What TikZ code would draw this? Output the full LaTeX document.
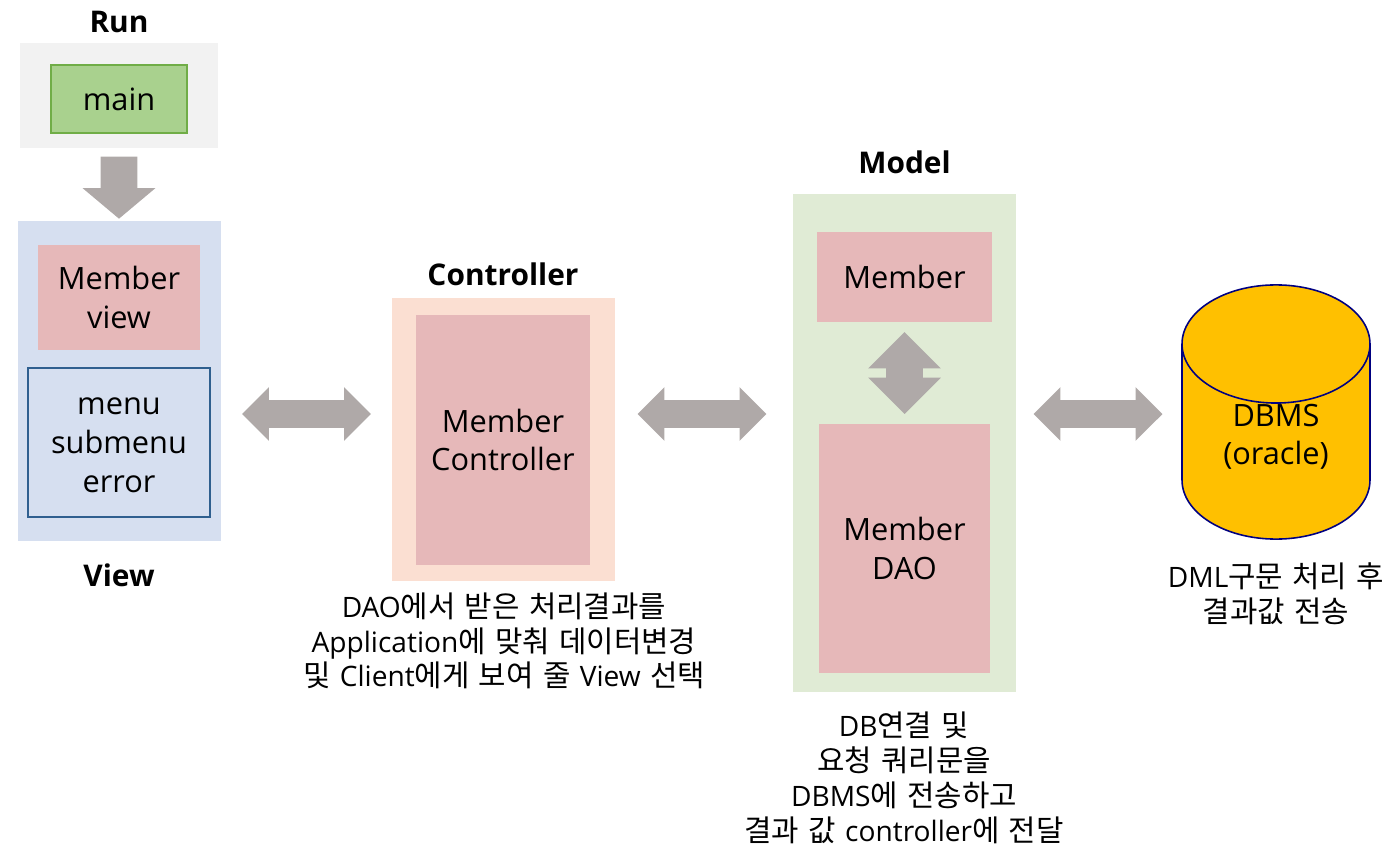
\documentclass[tikz,border=0pt]{standalone}
\usepackage{fontspec}
\setmainfont{Open Sans}
\newfontfamily\krfont[Scale=1.06,WordSpace=1.4]{Noto Sans CJK KR}
\usetikzlibrary{shapes.geometric,shapes.arrows,positioning}
\definecolor{arrowgray}{HTML}{AFA9A8}
\definecolor{memberpink}{HTML}{E6B8B9}
\definecolor{viewblue}{HTML}{D6DFF0}
\begin{document}
\begin{tikzpicture}[x=0.02cm, y=-0.02cm]
	\tikzstyle{every node} = [inner sep = 0, align = center]
	\tikzstyle{box} = [rectangle, minimum width = #1]
	\tikzstyle{title} = [font = \fontsize{17}{20}\selectfont\bfseries]
	\tikzstyle{label} = [font = \fontsize{17.5}{22}\selectfont]
	\tikzstyle{caption} = [font = \fontsize{16}{19.8}\selectfont]
	\tikzstyle{member} = [fill = memberpink, label]
	\tikzstyle{both} = [double arrow, fill = arrowgray, inner ysep = 0.27cm, double arrow head extend = 0.26cm, minimum width = 1.06cm, minimum height = 2.58cm, double arrow tip angle = 90]
\useasboundingbox (0,0) rectangle (1397,848);

% Run
\node[box = 3.96cm, minimum height = 2.1cm, fill = black!5] (runbg) at (119, 95.5) {};
\node[box = 2.72cm, minimum height = 1.36cm, fill = {rgb,255:red,169;green,209;blue,142}, draw = {rgb,255:red,112;green,173;blue,71}, line width = 1pt, label] (main) at (119, 99) {main};
\node[title] (run) at (119, 22) {Run};

% View
\node[box = 4.06cm, minimum height = 6.4cm, fill = viewblue] (viewbg) at (119.5, 381) {};
\node[single arrow, fill = arrowgray, rotate = -90, inner ysep = 0.36cm, minimum height = 1.24cm, minimum width = 1.44cm, single arrow head extend = 0.36cm, single arrow tip angle = 100] (rundown) at (119, 180) {};
\node[box = 3.24cm, minimum height = 2.1cm, member] (memberview) at (119, 297.5) {Member\\view};
\node[box = 3.64cm, minimum height = 2.98cm, fill = viewblue, draw = {rgb,255:red,47;green,95;blue,143}, line width = 0.8pt, label, text height = 56.8pt] (menu) at (119, 442.5) {menu\\submenu\\error};
\node[title] (view) at (119, 575) {View};
\node[both] (viewctrl) at (306.5, 414) {};

% Controller
\node[box = 4.46cm, minimum height = 5.66cm, fill = {rgb,255:red,251;green,223;blue,210}] (ctrlbg) at (503.5, 439.5) {};
\node[box = 3.48cm, minimum height = 5cm, member] (memberctrl) at (503, 440) {Member\\Controller};
\node[title] (controller) at (503, 274) {Controller};
\node[caption] (ctrltext) at (504, 641) {DAO{\krfont 에서 받은 처리결과를}\\Application{\krfont 에 맞춰 데이터변경}\\{\krfont 및 }Client{\krfont 에게 보여 줄 }View{\krfont\ 선택}};
\node[both] (ctrlmodel) at (702, 414) {};

% Model
\node[box = 4.46cm, minimum height = 9.96cm, fill = {rgb,255:red,224;green,235;blue,213}] (modelbg) at (904.5, 443) {};
\node[box = 3.5cm, minimum height = 1.8cm, member] (member) at (904.5, 277) {Member};
\node[box = 3.42cm, minimum height = 4.98cm, member] (memberdao) at (904.5, 548.5) {Member\\DAO};
\node[double arrow, fill = arrowgray, rotate = 90, inner ysep = 0.36cm, minimum height = 1.64cm, minimum width = 1.44cm, double arrow head extend = 0.36cm, double arrow tip angle = 90] (daoarrow) at (904.5, 373) {};
\node[title] (model) at (904.5, 162) {Model};
\node[caption] (modeltext) at (904, 778) {DB{\krfont 연결 및}\\{\krfont 요청 쿼리문을}\\DBMS{\krfont 에 전송하고}\\{\krfont 결과 값 }controller{\krfont 에 전달}};
\node[both] (modeldb) at (1098, 414) {};

% DBMS
\node[cylinder, anchor = shape center, shape border rotate = 90, aspect = 1.12, minimum height = 5cm, minimum width = 3.76cm, fill = {rgb,255:red,255;green,192;blue,0}, draw = {rgb,255:red,0;green,0;blue,128}, line width = 0.9pt, label, text depth = 8.7pt] (dbms) at (1276, 412) {DBMS\\(oracle)};
\node[caption] (dbmstext) at (1276, 594) {DML{\krfont 구문 처리 후}\\{\krfont 결과값 전송}};
\end{tikzpicture}
\end{document}
